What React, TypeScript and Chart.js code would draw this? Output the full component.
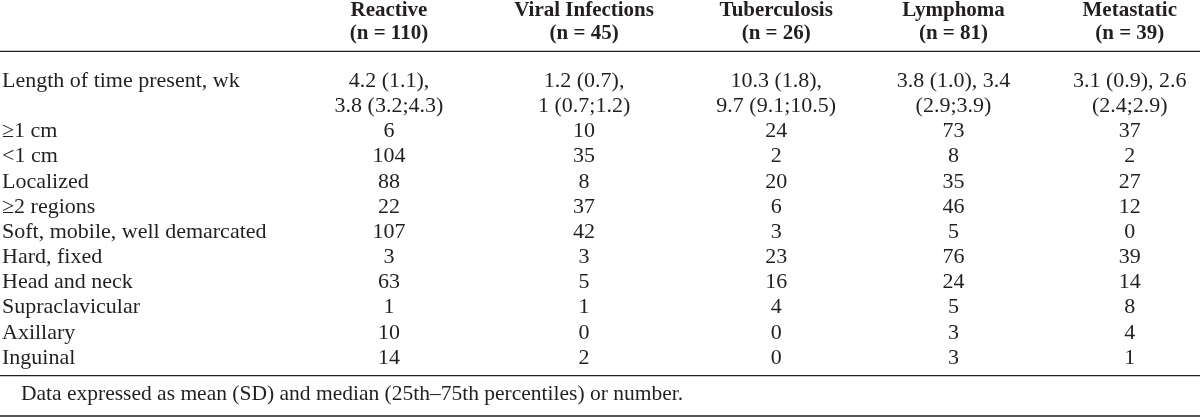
import React, { useEffect, useRef } from "react";
import { Chart, registerables } from "chart.js";

Chart.register(...registerables);

// ---------- data ----------
const GROUPS = ["Reactive", "Viral Infections", "Tuberculosis", "Lymphoma", "Metastatic"];
const GROUP_N = [110, 45, 26, 81, 39];

const LENGTH_LABEL = "Length of time present, wk";
const LENGTH_LINE1 = ["4.2 (1.1),", "1.2 (0.7),", "10.3 (1.8),", "3.8 (1.0), 3.4", "3.1 (0.9), 2.6"];
const LENGTH_LINE2 = ["3.8 (3.2;4.3)", "1 (0.7;1.2)", "9.7 (9.1;10.5)", "(2.9;3.9)", "(2.4;2.9)"];

const COUNT_LABELS = [
  "≥1 cm",
  "<1 cm",
  "Localized",
  "≥2 regions",
  "Soft, mobile, well demarcated",
  "Hard, fixed",
  "Head and neck",
  "Supraclavicular",
  "Axillary",
  "Inguinal",
];
const REACTIVE = [6, 104, 88, 22, 107, 3, 63, 1, 10, 14];
const VIRAL = [10, 35, 8, 37, 42, 3, 5, 1, 0, 2];
const TUBERCULOSIS = [24, 2, 20, 6, 3, 23, 16, 4, 0, 0];
const LYMPHOMA = [73, 8, 35, 46, 5, 76, 24, 5, 3, 3];
const METASTATIC = [37, 2, 27, 12, 0, 39, 14, 8, 4, 1];

const FOOTNOTE = "Data expressed as mean (SD) and median (25th–75th percentiles) or number.";

// ---------- layout / style ----------
const SERIF = '"Liberation Serif", "Times New Roman", serif';
const BODY_SIZE = 22;
const HEAD_SIZE = 21;
const NOTE_SIZE = 21.5;
const INK = "#231f20";
const LABEL_AXIS_WIDTH = 280; // width reserved for row labels
const LEFT_PAD = 2;
const HEADER_HEIGHT = 68.4;
const BOTTOM_PAD = 46.4;
// column centres in table units (x scale runs across the value columns)
const X_MIN = LEFT_PAD + LABEL_AXIS_WIDTH;
const X_MAX = 1200;
const COL_CENTER = [390, 587, 781, 960, 1138];

const LINE_LABELS = [LENGTH_LABEL, "", ...COUNT_LABELS];
const HEADERS = GROUPS.map((g, i) => [g, `(n = ${GROUP_N[i]})`]);
const COLUMNS = [REACTIVE, VIRAL, TUBERCULOSIS, LYMPHOMA, METASTATIC];

const tablePlugin = {
  id: "tableCells",
  afterDraw(chart: any) {
    const { ctx, chartArea } = chart;
    const x = chart.scales.x;
    const y = chart.scales.y;
    ctx.save();
    ctx.fillStyle = INK;
    ctx.font = `${BODY_SIZE}px ${SERIF}`;
    ctx.textAlign = "center";
    ctx.textBaseline = "middle";
    COLUMNS.forEach((vals, c) => {
      const px = x.getPixelForValue(COL_CENTER[c]);
      ctx.fillText(LENGTH_LINE1[c], px, y.getPixelForValue(0));
      ctx.fillText(LENGTH_LINE2[c], px, y.getPixelForValue(1));
      vals.forEach((v, r) => {
        ctx.fillText(String(v), px, y.getPixelForValue(r + 2));
      });
    });

    // rules
    ctx.strokeStyle = INK;
    ctx.lineWidth = 1.4;
    const hRule = chartArea.top - 17;
    ctx.beginPath();
    ctx.moveTo(0, hRule);
    ctx.lineTo(chart.width, hRule);
    ctx.stroke();

    const bRule = chartArea.bottom + 5;
    ctx.beginPath();
    ctx.moveTo(0, bRule);
    ctx.lineTo(chart.width, bRule);
    ctx.stroke();

    // footnote
    ctx.font = `${NOTE_SIZE}px ${SERIF}`;
    ctx.textAlign = "left";
    ctx.fillText(FOOTNOTE, 21, chartArea.bottom + 23.5);

    ctx.strokeStyle = "#555";
    ctx.lineWidth = 2;
    ctx.beginPath();
    ctx.moveTo(0, chart.height - 1);
    ctx.lineTo(chart.width, chart.height - 1);
    ctx.stroke();
    ctx.restore();
  },
};

export default function App() {
  const canvasRef = useRef<HTMLCanvasElement | null>(null);

  useEffect(() => {
    document.body.style.margin = "0";
    document.body.style.background = "#ffffff";
    const canvas = canvasRef.current;
    if (!canvas) return;
    const chart = new Chart(canvas, {
      type: "line",
      data: { datasets: [] },
      plugins: [tablePlugin],
      options: {
        animation: false,
        responsive: false,
        devicePixelRatio: 1,
        layout: { padding: { left: LEFT_PAD, right: 0, top: 0, bottom: BOTTOM_PAD } },
        plugins: { legend: { display: false }, tooltip: { enabled: false } },
        scales: {
          x: {
            type: "linear",
            position: "top",
            min: X_MIN,
            max: X_MAX,
            afterBuildTicks: (scale: any) => {
              scale.ticks = COL_CENTER.map((value) => ({ value }));
            },
            afterFit: (scale: any) => {
              scale.height = HEADER_HEIGHT;
            },
            grid: { display: false, drawTicks: false, tickLength: 0 },
            border: { display: false },
            ticks: {
              autoSkip: false,
              maxRotation: 0,
              minRotation: 0,
              padding: 23,
              color: INK,
              font: { family: SERIF, size: HEAD_SIZE, weight: "bold", lineHeight: 1.1 },
              callback: (_v: any, i: number) => HEADERS[i],
            },
          },
          y: {
            type: "category",
            position: "left",
            labels: LINE_LABELS,
            offset: true,
            afterFit: (scale: any) => {
              scale.width = LABEL_AXIS_WIDTH;
            },
            grid: { display: false, drawTicks: false, tickLength: 0 },
            border: { display: false },
            ticks: {
              autoSkip: false,
              crossAlign: "far",
              color: INK,
              font: { family: SERIF, size: BODY_SIZE },
            },
          },
        },
      } as any,
    });
    return () => chart.destroy();
  }, []);

  return (
    <canvas
      ref={canvasRef}
      width={1200}
      height={417}
      style={{ display: "block", width: 1200, height: 417 }}
    />
  );
}
